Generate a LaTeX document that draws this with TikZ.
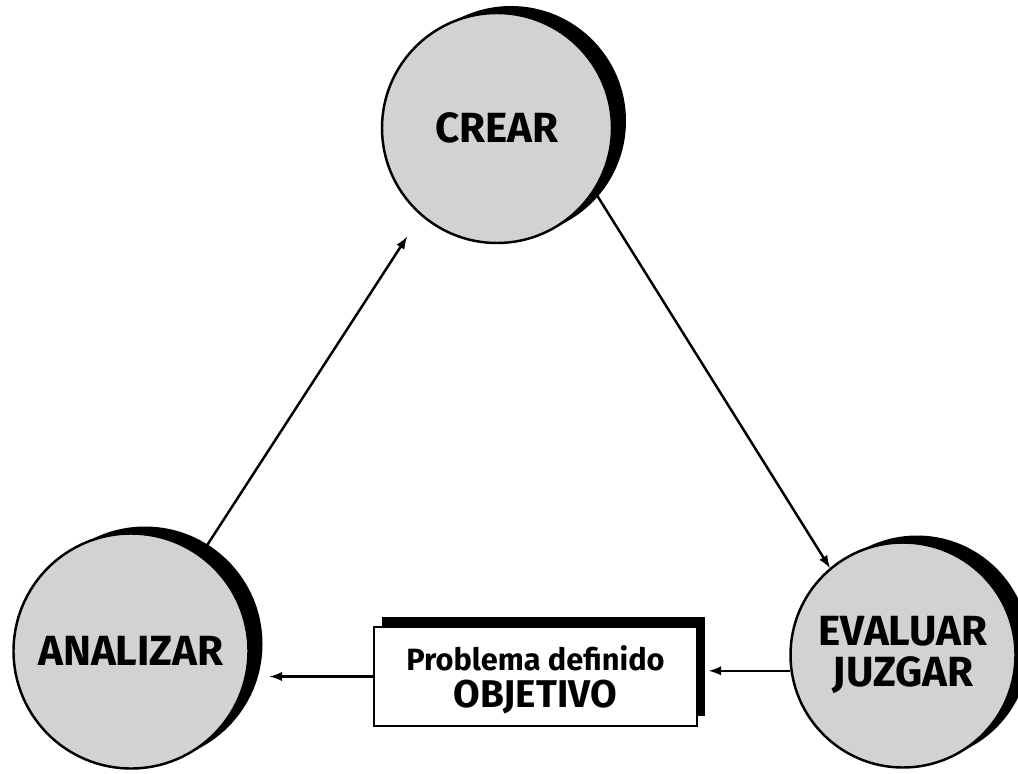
\documentclass[tikz,border=0pt]{standalone}
\usepackage{fontspec}
\setmainfont{Fira Sans}
\usetikzlibrary{shadows}

\tikzset{
		disc/.style={circle, draw=black, line width=1.4pt, fill=gray!35, align=center, drop shadow={shadow xshift=0.28cm, shadow yshift=0.14cm, fill=black, opacity=1}},
		goal/.style={rectangle, draw=black, line width=1pt, fill=white, minimum width=6.46cm, minimum height=1.98cm, drop shadow={shadow xshift=0.16cm, shadow yshift=0.2cm, fill=black, opacity=1}},
		flow/.style={-latex, line width=1.4pt}
	}

\begin{document}
\begin{tikzpicture}
	
	\useasboundingbox (0,0) rectangle (20.36,15.46);
	
	\node (crear) at (9.94,12.90) [disc, minimum size=4.6cm, font=\fontsize{24}{24}\selectfont\bfseries] {CREAR};
	\node (analizar) at (2.62,2.44) [disc, minimum size=4.7cm, font=\fontsize{24}{24}\selectfont\bfseries] {ANALIZAR};
	\node (evaluar) at (18.06,2.36) [disc, minimum size=4.5cm, font=\fontsize{24}{23}\selectfont\bfseries] {EVALUAR\\JUZGAR};
	
	\node (box) at (10.71,1.93) [goal] {};
	\node (problema) at ([yshift=0.37cm]box.center) [font=\fontsize{17.5}{18}\selectfont\bfseries] {Problema definido};
	\node (objetivo) at ([yshift=-0.41cm]box.center) [font=\fontsize{22}{24}\selectfont\bfseries] {OBJETIVO};
	
	\draw [flow, shorten >=0.5cm] (analizar.54) -- (crear.229);
	\draw [flow] (crear.-33) -- (evaluar.130);
	\draw [flow, shorten >=0.22cm] (evaluar.188) -- (evaluar.188 -| box.east);
	\draw [flow, shorten >=0.4cm] (box.west) -- (box.west -| analizar.east);
	
	\end{tikzpicture}
\end{document}
